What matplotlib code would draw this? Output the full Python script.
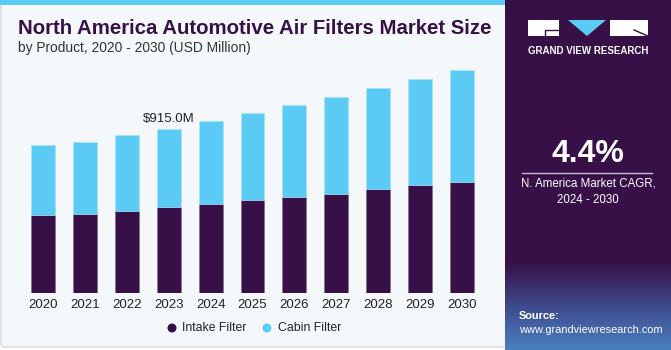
import numpy as np
import matplotlib
matplotlib.use("Agg")
from matplotlib import pyplot as plt
from matplotlib.patches import Rectangle, FancyBboxPatch, Polygon, Circle

plt.rcParams['font.family'] = ['Liberation Sans', 'DejaVu Sans']

years = ["2020", "2021", "2022", "2023", "2024", "2025", "2026", "2027", "2028", "2029", "2030"]
intake = [436, 442, 460, 481, 496, 520, 535, 555, 581, 601, 620]
cabin = [388, 399, 420, 434, 464, 482, 512, 540, 562, 591, 625]
series_names = ["Intake Filter", "Cabin Filter"]
note_year = "2023"
note_text = "$915.0M"
cagr = "4.4%"

purple = "#371047"
blue = "#5bcbf5"
W, H = 671, 350

fig = plt.figure(figsize=(W / 100, H / 100), dpi=100)
fig.patch.set_facecolor("white")

def fx(px):
    return px / W

def fy(py):
    return 1 - py / H

# background card + right panel, drawn in pixel coords
bg = fig.add_axes([0, 0, 1, 1], zorder=0)
bg.axis("off")
bg.add_patch(FancyBboxPatch((1, 2), 512, 345, boxstyle="round,pad=0,rounding_size=4",
                            facecolor="#f4f8fb", edgecolor="#d4d8dc", lw=1))
bg.add_patch(Rectangle((0, 0), 513, 4.5, facecolor=blue, edgecolor="none"))

bg.add_patch(Rectangle((505, 0), W - 505, H, facecolor=purple, edgecolor="none", zorder=2))
grad = np.linspace(0, 1, 100).reshape(-1, 1)
cmap = matplotlib.colors.LinearSegmentedColormap.from_list("g", [purple, "#3f4a8c", "#4a7fc0"])
bg.imshow(grad, extent=(505, W, H, 262), origin="upper", cmap=cmap, aspect="auto", zorder=3)
bg.set_xlim(0, W)
bg.set_ylim(H, 0)

# logo
bg.add_patch(Rectangle((528, 20), 31, 16, facecolor="white", edgecolor="none", zorder=4))
bg.add_patch(Polygon([(568, 20), (606, 20), (587, 36)], closed=True, facecolor=blue,
                     edgecolor="none", zorder=4))
bg.add_patch(Rectangle((610, 20), 38, 16, facecolor="white", edgecolor="none", zorder=4))
bg.plot([545, 545, 559], [36, 30, 30], color=purple, lw=1, zorder=5)
bg.plot([634, 648], [30, 36], color=purple, lw=1, zorder=5)
bg.text(588, 51, "GRAND VIEW RESEARCH", color="white", fontsize=7.0, fontweight="bold",
        ha="center", va="center", zorder=5)

bg.text(588, 154, cagr, color="white", fontsize=23, fontweight="bold", ha="center",
        va="center", zorder=5)
bg.plot([522, 652], [173, 173], color="#c8bcd0", lw=1, zorder=5)
bg.text(588, 184, "N. America Market CAGR,", color="white", fontsize=8.3, ha="center",
        va="center", zorder=5)
bg.text(588, 200, "2024 - 2030", color="white", fontsize=8.3, ha="center", va="center", zorder=5)
bg.text(519, 316, "Source:", color="white", fontsize=7.9, fontweight="bold", ha="left",
        va="center", zorder=5)
bg.text(519, 330, "www.grandviewresearch.com", color="white", fontsize=7.9, ha="left",
        va="center", zorder=5)

# titles
bg.text(18, 29, "North America Automotive Air Filters Market Size", color=purple,
        fontsize=14.7, fontweight="bold", ha="left", va="center")
bg.text(18, 48, "by Product, 2020 - 2030 (USD Million)", color="#333333",
        fontsize=9.9, ha="left", va="center")

# chart axes
pitch = 41.9
left = 43 - 0.5 * pitch
base = 293.3
ymax = 1300
scale = 915.0 / 164.3
ax = fig.add_axes([fx(left), fy(base), 11 * pitch / W, ymax / scale / H], zorder=1)
ax.set_facecolor("none")
x = np.arange(len(years))
ax.bar(x, intake, width=0.57, color=purple, edgecolor="#7a6a88", linewidth=0.4)
ax.bar(x, cabin, width=0.57, bottom=intake, color=blue, edgecolor="#a8e2f8", linewidth=0.4)
ax.set_xlim(-0.5, len(years) - 0.5)
ax.set_ylim(0, ymax)
ax.set_xticks(x)
ax.set_xticklabels(years, fontsize=9.5, color="#222222")
ax.tick_params(axis="x", length=0, pad=4)
ax.set_yticks([])
for s in ax.spines.values():
    s.set_visible(False)
i = years.index(note_year)
ax.text(i, intake[i] + cabin[i] + 25, note_text, ha="center", va="bottom", fontsize=9.5,
        color="#222222")

# legend
bg.add_patch(Circle((172, 328), 4.5, facecolor=purple, edgecolor="none"))
bg.text(182, 328, series_names[0], fontsize=8.8, color="#222222", ha="left", va="center")
bg.add_patch(Circle((267, 328), 4.5, facecolor=blue, edgecolor="none"))
bg.text(278, 328, series_names[1], fontsize=8.8, color="#222222", ha="left", va="center")

fig.savefig("out.png", dpi=100)
